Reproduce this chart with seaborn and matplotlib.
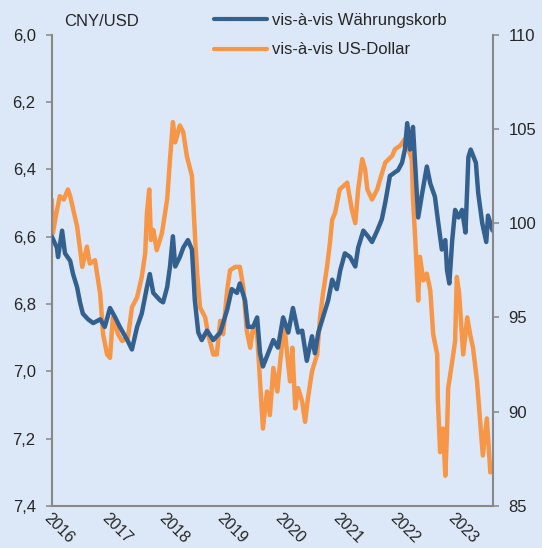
import matplotlib
matplotlib.use("Agg")
import matplotlib.pyplot as plt
import matplotlib.ticker as mticker
from matplotlib.lines import Line2D
import seaborn as sns
import pandas as pd

# CNY per USD (left axis, inverted)
usd_t = [2016.00, 2016.02, 2016.07, 2016.14, 2016.21, 2016.28, 2016.32, 2016.44, 2016.53, 2016.61,
         2016.66, 2016.75, 2016.84, 2016.89, 2016.96, 2017.01, 2017.06, 2017.15, 2017.22, 2017.32,
         2017.39, 2017.48, 2017.56, 2017.62, 2017.65, 2017.69, 2017.72, 2017.76, 2017.82, 2017.91,
         2018.00, 2018.05, 2018.10, 2018.14, 2018.22, 2018.28, 2018.34, 2018.43, 2018.48, 2018.52,
         2018.57, 2018.66, 2018.71, 2018.80, 2018.86, 2018.92, 2018.97, 2019.04, 2019.09, 2019.18,
         2019.26, 2019.32, 2019.38, 2019.44, 2019.49, 2019.56, 2019.61, 2019.66, 2019.73, 2019.78,
         2019.84, 2019.91, 2019.96, 2020.03, 2020.08, 2020.13, 2020.17, 2020.22, 2020.27, 2020.34,
         2020.39, 2020.44, 2020.51, 2020.60, 2020.65, 2020.70, 2020.77, 2020.82, 2020.86, 2020.91,
         2020.99, 2021.12, 2021.20, 2021.26, 2021.31, 2021.38, 2021.43, 2021.47, 2021.55, 2021.64,
         2021.69, 2021.78, 2021.90, 2021.95, 2022.04, 2022.12, 2022.18, 2022.24, 2022.26, 2022.30,
         2022.35, 2022.38, 2022.44, 2022.50, 2022.56, 2022.61, 2022.68, 2022.69, 2022.73, 2022.78,
         2022.82, 2022.85, 2022.87, 2022.94, 2022.99, 2023.02, 2023.06, 2023.13, 2023.20, 2023.25,
         2023.30, 2023.37, 2023.42, 2023.47, 2023.54, 2023.60, 2023.64]
usd_v = [6.49, 6.59, 6.54, 6.48, 6.49, 6.46, 6.48, 6.57, 6.69, 6.63,
         6.68, 6.67, 6.77, 6.89, 6.95, 6.96, 6.84, 6.89, 6.91, 6.90,
         6.81, 6.78, 6.72, 6.65, 6.53, 6.46, 6.61, 6.58, 6.64, 6.59,
         6.49, 6.37, 6.26, 6.32, 6.27, 6.29, 6.36, 6.42, 6.59, 6.71,
         6.81, 6.84, 6.89, 6.95, 6.95, 6.85, 6.89, 6.76, 6.70, 6.69,
         6.69, 6.75, 6.88, 6.93, 6.87, 6.89, 7.03, 7.17, 7.06, 7.13,
         6.99, 7.06, 6.97, 6.86, 6.95, 7.03, 6.93, 7.11, 7.05, 7.09,
         7.15, 7.08, 7.00, 6.95, 6.84, 6.77, 6.69, 6.62, 6.55, 6.53,
         6.46, 6.44, 6.52, 6.56, 6.46, 6.37, 6.40, 6.46, 6.49, 6.46,
         6.43, 6.38, 6.36, 6.34, 6.33, 6.31, 6.34, 6.37, 6.49, 6.61,
         6.79, 6.66, 6.73, 6.71, 6.76, 6.89, 6.95, 7.08, 7.24, 7.17,
         7.31, 7.18, 7.05, 6.97, 6.91, 6.72, 6.77, 6.95, 6.84, 6.89,
         6.93, 7.03, 7.14, 7.25, 7.14, 7.30, 7.28]

# Index vs. currency basket (right axis)
basket_t = [2016.00, 2016.09, 2016.11, 2016.18, 2016.23, 2016.32, 2016.37, 2016.44, 2016.49, 2016.54,
            2016.63, 2016.72, 2016.84, 2016.92, 2017.01, 2017.10, 2017.18, 2017.31, 2017.39, 2017.48,
            2017.56, 2017.65, 2017.70, 2017.76, 2017.88, 2017.93, 2018.00, 2018.05, 2018.10, 2018.14,
            2018.22, 2018.28, 2018.36, 2018.43, 2018.48, 2018.54, 2018.60, 2018.69, 2018.80, 2018.92,
            2019.04, 2019.12, 2019.21, 2019.26, 2019.35, 2019.40, 2019.49, 2019.56, 2019.61, 2019.66,
            2019.75, 2019.84, 2019.92, 2020.01, 2020.10, 2020.18, 2020.27, 2020.34, 2020.42, 2020.51,
            2020.56, 2020.62, 2020.70, 2020.79, 2020.86, 2020.94, 2021.00, 2021.08, 2021.17, 2021.26,
            2021.31, 2021.40, 2021.48, 2021.55, 2021.64, 2021.72, 2021.78, 2021.86, 2021.95, 2022.00,
            2022.07, 2022.12, 2022.16, 2022.21, 2022.26, 2022.30, 2022.35, 2022.42, 2022.50, 2022.56,
            2022.64, 2022.69, 2022.76, 2022.82, 2022.85, 2022.89, 2022.94, 2022.99, 2023.05, 2023.11,
            2023.17, 2023.22, 2023.26, 2023.35, 2023.39, 2023.46, 2023.53, 2023.56, 2023.64]
basket_v = [99.3, 98.7, 98.2, 99.6, 98.4, 98.0, 97.3, 96.6, 95.8, 95.2,
            94.9, 94.7, 94.9, 94.5, 95.5, 95.0, 94.5, 93.8, 93.3, 94.5,
            95.2, 96.6, 97.3, 96.3, 95.9, 95.8, 96.6, 97.7, 99.3, 97.7,
            98.2, 98.7, 99.1, 98.6, 95.9, 94.2, 93.8, 94.3, 93.8, 94.2,
            95.4, 96.5, 96.3, 96.8, 95.9, 94.5, 94.5, 95.0, 93.1, 92.4,
            93.1, 93.8, 93.4, 95.0, 94.2, 95.5, 94.2, 94.3, 92.7, 94.0,
            93.1, 94.2, 95.0, 95.9, 97.0, 96.5, 97.5, 98.4, 98.2, 97.7,
            98.7, 99.6, 99.3, 99.0, 99.6, 100.2, 101.1, 102.5, 102.7, 102.8,
            103.2, 103.9, 105.3, 103.9, 105.1, 103.0, 100.3, 101.6, 103.0, 102.1,
            101.4, 100.2, 98.6, 99.1, 97.5, 96.8, 99.1, 100.7, 100.3, 100.7,
            99.5, 103.5, 103.9, 103.2, 101.6, 100.0, 99.0, 100.4, 99.6]

years = [2016, 2017, 2018, 2019, 2020, 2021, 2022, 2023]
left_ticks = [6.0, 6.2, 6.4, 6.6, 6.8, 7.0, 7.2, 7.4]
right_ticks = [85, 90, 95, 100, 105, 110]

bg = "#dce8f7"
blue = "#34608f"
orange = "#f79646"
grey = "#888888"

usd = pd.DataFrame({"t": usd_t, "v": usd_v})
basket = pd.DataFrame({"t": basket_t, "v": basket_v})

sns.set_theme(style="white")
plt.rcParams["font.family"] = ["Liberation Sans", "DejaVu Sans"]

fig = plt.figure(figsize=(5.42, 5.48), dpi=100, facecolor=bg)
ax = fig.add_axes([0.0954, 0.0766, 0.8135, 0.8604])
ax.set_facecolor(bg)
ax2 = ax.twinx()

sns.lineplot(data=usd, x="t", y="v", ax=ax, color=orange, lw=3.2,
             estimator=None, sort=False)
sns.lineplot(data=basket, x="t", y="v", ax=ax2, color=blue, lw=3.2,
             estimator=None, sort=False)

ax.set_xlim(2016, 2023.64)
ax.set_ylim(7.4, 6.0)
ax2.set_ylim(85, 110)
ax.set_yticks(left_ticks)
ax.yaxis.set_major_formatter(mticker.FuncFormatter(lambda v, p: f"{v:.1f}".replace(".", ",")))
ax2.set_yticks(right_ticks)
ax.set_xticks(years)
ax.set_xticklabels([str(y) for y in years], rotation=-45, ha="left", va="top",
                   rotation_mode="anchor")
for a in (ax, ax2):
    a.set_xlabel("")
    a.set_ylabel("")
    a.spines["top"].set_visible(False)
    for s in a.spines.values():
        s.set_color(grey)
        s.set_linewidth(1.5)
ax.spines["right"].set_visible(False)
ax2.spines["left"].set_visible(False)
ax2.spines["bottom"].set_visible(False)

ax.tick_params(axis="y", direction="out", length=4.5, width=1.1, color=grey,
               labelsize=12, pad=7, left=True)
ax.tick_params(axis="x", length=0, labelsize=11.5, pad=3)
ax2.tick_params(axis="y", direction="out", length=4.5, width=1.1, color=grey,
                labelsize=12, pad=7, right=True)

fig.text(64 / 542, 1 - 22 / 548, "CNY/USD", ha="left", va="center", fontsize=12)

handles = [Line2D([], [], color=blue, lw=3.0), Line2D([], [], color=orange, lw=3.0)]
fig.legend(handles, ["vis-à-vis Währungskorb", "vis-à-vis US-Dollar"],
           loc="center left", bbox_to_anchor=(214 / 542, 1 - 35 / 548),
           frameon=False, fontsize=12, handlelength=3.2, handletextpad=0.25,
           labelspacing=0.9, borderpad=0, borderaxespad=0)

fig.savefig("out.png", dpi=100, facecolor=bg)
